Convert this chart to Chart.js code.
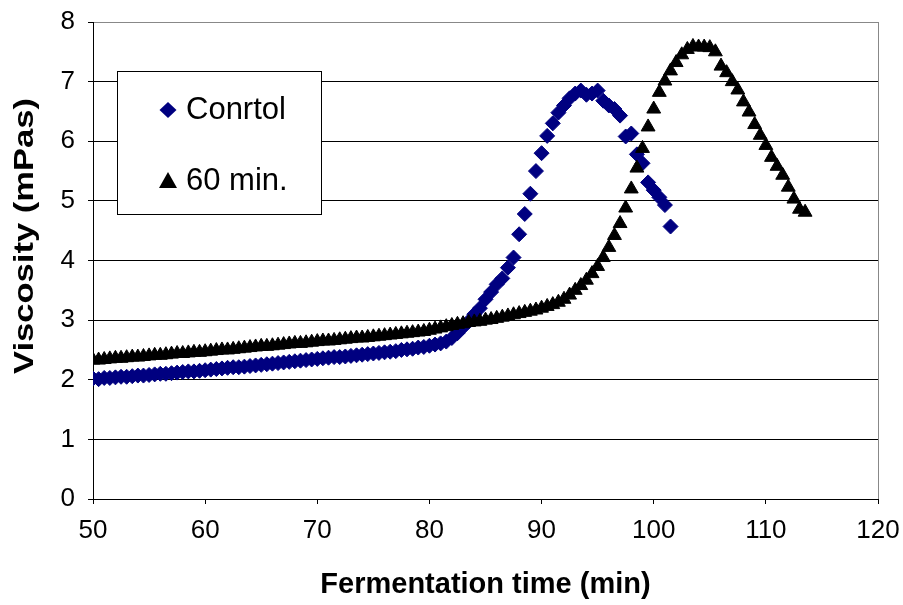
<!DOCTYPE html>
<html>
<head>
<meta charset="utf-8">
<script src="https://cdn.jsdelivr.net/npm/chart.js@4.4.1/dist/chart.umd.min.js"></script>
<style>
  html, body { margin: 0; padding: 0; background: #fff; }
  #wrap { width: 903px; height: 605px; }
</style>
</head>
<body>
<div id="wrap"><canvas id="myChart"></canvas></div>
<script>
var seriesNames = ['Conrtol', '60 min.'];

var controlTime = [50,50.5,51,51.5,52,52.5,53,53.5,54,54.5,55,55.5,56,56.5,57,57.5,58,58.5,59,59.5,
  60,60.5,61,61.5,62,62.5,63,63.5,64,64.5,65,65.5,66,66.5,67,67.5,68,68.5,69,69.5,
  70,70.5,71,71.5,72,72.5,73,73.5,74,74.5,75,75.5,76,76.5,77,77.5,78,78.5,79,79.5,
  80,80.5,81,81.5,82,82.5,83,83.5,84,84.5,85,85.5,86,86.5,87,87.5,88,88.5,89,89.5,
  90,90.5,91,91.5,92,92.5,93,93.5,94,94.5,95,95.5,96,96.5,97,97.5,98,98.5,99,99.5,
  100,100.5,101,101.5];
var controlVisc = [2.02,2.01,2.03,2.03,2.04,2.05,2.05,2.06,2.07,2.07,2.08,2.09,2.10,2.10,2.11,2.12,2.13,2.14,2.14,2.15,
  2.16,2.17,2.18,2.19,2.20,2.21,2.21,2.22,2.23,2.24,2.25,2.26,2.27,2.28,2.29,2.30,2.31,2.32,2.33,2.34,
  2.35,2.36,2.37,2.38,2.38,2.39,2.40,2.41,2.42,2.43,2.44,2.45,2.46,2.47,2.48,2.50,2.51,2.52,2.54,2.55,
  2.57,2.59,2.61,2.64,2.70,2.78,2.88,2.98,3.10,3.20,3.35,3.47,3.60,3.70,3.88,4.05,4.44,4.78,5.12,5.50,
  5.80,6.09,6.30,6.48,6.60,6.72,6.80,6.85,6.78,6.80,6.85,6.68,6.60,6.54,6.43,6.08,6.13,5.78,5.63,5.31,
  5.18,5.06,4.93,4.57];

var min60Time = [50,50.5,51,51.5,52,52.5,53,53.5,54,54.5,55,55.5,56,56.5,57,57.5,58,58.5,59,59.5,
  60,60.5,61,61.5,62,62.5,63,63.5,64,64.5,65,65.5,66,66.5,67,67.5,68,68.5,69,69.5,
  70,70.5,71,71.5,72,72.5,73,73.5,74,74.5,75,75.5,76,76.5,77,77.5,78,78.5,79,79.5,
  80,80.5,81,81.5,82,82.5,83,83.5,84,84.5,85,85.5,86,86.5,87,87.5,88,88.5,89,89.5,
  90,90.5,91,91.5,92,92.5,93,93.5,94,94.5,95,95.5,96,96.5,97,97.5,98,98.5,99,99.5,
  100,100.5,101,101.5,102,102.5,103,103.5,104,104.5,105,105.5,106,106.5,107,107.5,108,108.5,109,109.5,
  110,110.5,111,111.5,112,112.5,113,113.5];
var min60Visc = [2.33,2.33,2.34,2.35,2.36,2.36,2.37,2.38,2.38,2.39,2.40,2.41,2.41,2.42,2.43,2.44,2.44,2.45,2.46,2.46,
  2.47,2.48,2.49,2.50,2.50,2.51,2.52,2.53,2.54,2.55,2.56,2.56,2.57,2.58,2.59,2.60,2.61,2.61,2.62,2.63,
  2.64,2.65,2.65,2.66,2.67,2.68,2.69,2.70,2.70,2.71,2.72,2.73,2.74,2.75,2.76,2.77,2.78,2.79,2.80,2.81,
  2.83,2.85,2.87,2.89,2.91,2.93,2.94,2.96,2.97,2.98,3.00,3.01,3.03,3.05,3.07,3.09,3.11,3.13,3.15,3.17,
  3.20,3.23,3.26,3.30,3.35,3.42,3.50,3.58,3.67,3.78,3.90,4.05,4.22,4.42,4.62,4.88,5.20,5.55,5.88,6.24,
  6.54,6.82,7.01,7.18,7.32,7.45,7.54,7.59,7.58,7.58,7.57,7.50,7.26,7.15,7.00,6.86,6.66,6.49,6.28,6.10,
  5.93,5.73,5.58,5.43,5.23,5.03,4.86,4.81];

function toPoints(xs, ys){
  return xs.map(function(x, i){ return {x: x, y: ys[i]}; });
}

var navy = '#000080';
var black = '#000000';

// legend box inside the plot + the y title (stretched like the original)
var legendBox = {
  id: 'legendBox',
  afterDraw: function(chart){
    var ctx = chart.ctx;
    ctx.save();
    ctx.fillStyle = '#fff';
    ctx.strokeStyle = '#000';
    ctx.lineWidth = 1;
    ctx.fillRect(117.5, 71.5, 204, 143);
    ctx.strokeRect(117.5, 71.5, 204, 143);

    // diamond
    ctx.fillStyle = navy;
    ctx.beginPath();
    ctx.moveTo(168, 102); ctx.lineTo(176.5, 110); ctx.lineTo(168, 118); ctx.lineTo(159.5, 110);
    ctx.closePath(); ctx.fill();
    // triangle
    ctx.fillStyle = black;
    ctx.beginPath();
    ctx.moveTo(168, 172); ctx.lineTo(177, 188); ctx.lineTo(159, 188);
    ctx.closePath(); ctx.fill();

    ctx.fillStyle = '#000';
    ctx.font = '31px "Liberation Sans", Arial, sans-serif';
    ctx.textBaseline = 'middle';
    ctx.textAlign = 'left';
    ctx.fillText(seriesNames[0], 186, 110);
    ctx.fillText(seriesNames[1], 186, 181);

    // y axis title
    ctx.font = 'bold 28px "Liberation Sans", Arial, sans-serif';
    var w = ctx.measureText('Viscosity (mPas)').width;
    ctx.translate(25, 236);
    ctx.rotate(-Math.PI / 2);
    ctx.scale(276 / w, 1);
    ctx.textAlign = 'center';
    ctx.fillText('Viscosity (mPas)', 0, 0);
    ctx.restore();
  }
};

var ctx = document.getElementById('myChart');
var myChart = new Chart(ctx, {
  type: 'scatter',
  data: {
    datasets: [
      {
        label: seriesNames[0],
        data: toPoints(controlTime, controlVisc),
        pointStyle: 'rectRot',
        pointRadius: 7.5,
        backgroundColor: navy,
        borderColor: navy,
        borderWidth: 1,
        order: 1
      },
      {
        label: seriesNames[1],
        data: toPoints(min60Time, min60Visc),
        pointStyle: 'triangle',
        pointRadius: 8,
        backgroundColor: black,
        borderColor: black,
        borderWidth: 1,
        order: 0
      }
    ]
  },
  options: {
    responsive: true,
    maintainAspectRatio: false,
    animation: false,
    devicePixelRatio: 1,
    layout: { padding: { top: 22, right: 25, left: 0, bottom: 0 } },
    plugins: {
      legend: { display: false },
      tooltip: { enabled: false }
    },
    scales: {
      x: {
        type: 'linear',
        min: 50,
        max: 120,
        afterFit: function(s){
          s.height = 106;
          s.paddingLeft = 0; s.paddingRight = 0;
        },
        ticks: {
          stepSize: 10,
          color: '#000',
          padding: 11,
          font: { family: '"Liberation Sans", Arial, sans-serif', size: 26 }
        },
        grid: {
          color: function(c){ return c.tick && c.tick.value === 120 ? '#888' : 'rgba(0,0,0,0)'; },
          tickColor: '#000',
          tickLength: 5,
          lineWidth: 1
        },
        border: { color: '#000', width: 1 },
        title: {
          display: true,
          text: 'Fermentation time (min)',
          color: '#000',
          padding: { top: 0, bottom: 3 },
          font: { family: '"Liberation Sans", Arial, sans-serif', size: 29, weight: 'bold' }
        }
      },
      y: {
        min: 0,
        max: 8,
        afterFit: function(s){
          s.width = 93;
          s.paddingTop = 0; s.paddingBottom = 0;
        },
        ticks: {
          stepSize: 1,
          color: '#000',
          padding: 13,
          font: { family: '"Liberation Sans", Arial, sans-serif', size: 26 }
        },
        grid: {
          color: function(c){ return c.tick && c.tick.value === 8 ? '#888' : '#000'; },
          tickColor: '#000',
          tickLength: 5,
          lineWidth: 1
        },
        border: { color: '#000', width: 1 }
      }
    }
  },
  plugins: [legendBox]
});
</script>
</body>
</html>
